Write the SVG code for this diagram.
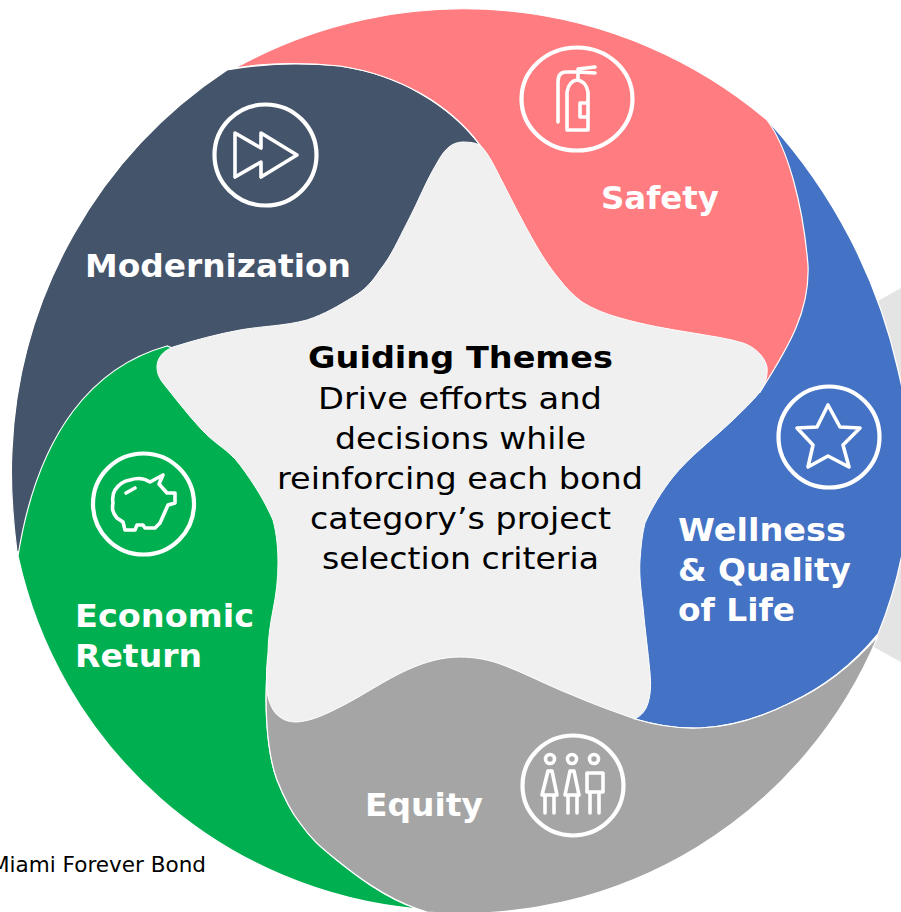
<svg xmlns="http://www.w3.org/2000/svg" width="901" height="912" viewBox="0 0 901 912">
<style>
.seg{stroke:#fff;stroke-width:1.2}
.ic{fill:none;stroke:#fff;stroke-width:3.6;stroke-linejoin:round;stroke-linecap:round}
.ring{fill:none;stroke:#fff;stroke-width:4.2}
.lb{font:bold 32px "DejaVu Sans",Verdana,sans-serif;fill:#fff}
.ct{font:31px "DejaVu Sans",Verdana,sans-serif;fill:#000}
.ch{font:bold 31px "DejaVu Sans",Verdana,sans-serif;fill:#000}
</style>
<rect width="901" height="912" fill="#fff"/>
<polygon id="backdrop" points="860,311 901,288 901,662 850,634" fill="#e4e4e4"/>
<g id="modernization">
<path class="seg" fill="#44546a" d="M17,552C13,520 10,485 12,450A480,480 0 0 1 227,70C265,63 300,62 340,66C400,75 450,105 480,145L460,460Z"/>
<text class="lb" x="85" y="277" textLength="266" lengthAdjust="spacingAndGlyphs">Modernization</text>
<ellipse class="ring" cx="265.500" cy="155" rx="51" ry="50.500"/>
<path class="ic" d="M235,133L261,148V133L297,155L261,177V162L235,177Z"/>
</g>
<g id="wellness">
<path class="seg" fill="#4472c4" d="M770,123A546,546 0 0 1 898,370A430,430 0 0 1 878,634C855,662 825,687 790,703C762,717 732,727 700,728C678,729 655,725 635,719L460,460L760,392Z"/>
<text class="lb" x="678" y="541" textLength="168" lengthAdjust="spacingAndGlyphs">Wellness</text>
<text class="lb" x="678" y="581" textLength="173" lengthAdjust="spacingAndGlyphs">&amp; Quality</text>
<text class="lb" x="678" y="621" textLength="117" lengthAdjust="spacingAndGlyphs">of Life</text>
<circle class="ring" cx="829" cy="437" r="50.500"/>
<path class="ic" d="M828,405L840,427L860,428L843,445L849,467L828,456L808,467L813,445L797,428L817,427Z"/>
</g>
<g id="safety">
<path class="seg" fill="#ff7c80" d="M235,68A470,470 0 0 1 767,120C788,148 803,205 808,265C810,310 790,345 760,392L460,460L480,145C450,105 400,75 340,66C300,62 265,63 235,68Z"/>
<text class="lb" x="601" y="209" textLength="118" lengthAdjust="spacingAndGlyphs">Safety</text>
<ellipse class="ring" cx="577" cy="99" rx="55.500" ry="51.500"/>
<path class="ic" d="M558,122V82Q558,72 566,72H578V80M578,69L595,67M578,72L595,73M567,130H588V92Q586,81 577,80Q569,81 567,92ZM588,103H580V117H588"/>
</g>
<g id="economic">
<path class="seg" fill="#00b050" d="M18,556A450,450 0 0 0 418,909C385,898 355,875 333,857C322,848 312,840 300,823C292,813 285,800 277,780C266,750 264,700 268,660L460,460L167,346C95,366 38,430 18,556Z"/>
<text class="lb" x="75" y="627" textLength="179" lengthAdjust="spacingAndGlyphs">Economic</text>
<text class="lb" x="75" y="667" textLength="127" lengthAdjust="spacingAndGlyphs">Return</text>
<circle class="ring" cx="143.500" cy="504" r="50.500"/>
<path class="ic" d="M150,482L163,475L159,484L167,493H175V503L168,505L160,523L155,528H145L143,525H137L135,530H125L123,522L117,518C112,512 112,508 113,503C112,496 113,493 115,490C119,484 124,481 130,480C136,478 144,478 150,482ZM126,493L135,488"/>
</g>
<g id="equity">
<path class="seg" fill="#a5a5a5" d="M418,909L427,912A450,450 0 0 0 878,636C855,662 825,687 790,703C762,717 732,727 700,728C678,729 655,725 635,719L460,600L268,660C264,700 266,750 277,780C285,800 292,813 300,823C312,840 322,848 333,857C355,875 385,898 418,909Z"/>
<text class="lb" x="365" y="816" textLength="118" lengthAdjust="spacingAndGlyphs">Equity</text>
<ellipse class="ring" cx="573" cy="785.500" rx="50.500" ry="50"/>
<g class="ic"><circle cx="550" cy="759" r="4.500"/><circle cx="572" cy="759" r="4.500"/><circle cx="594" cy="759" r="4.500"/>
<path d="M548,771H552L557,795H542ZM545,795V813M554,795V813M570,771H574L579,795H565ZM568,795V813M577,795V813M587,773H603V792H587ZM590,792V813M599,792V813"/></g>
</g>
<g id="center">
<path fill="#f0f0f0" stroke="#fff" stroke-width="1" d="M463,142C450,142 443,152 437,163C425,183 420,198 407,223C398,240 392,255 380,270C372,282 365,290 353,297C338,306 325,314 307,320C285,326 262,326 240,330C218,334 195,340 173,347C163,351 157,358 157,367C157,373 159,378 163,383C175,398 188,415 202,430C216,445 228,449 240,465C255,485 265,502 273,520C277,535 278,550 278,563C278,580 276,595 273,610C270,625 268,640 268,653C266,670 266,685 268,697C271,708 275,714 280,717C285,721 291,722 297,722C312,721 326,714 340,707C362,696 385,680 407,670C425,662 442,657 460,657C475,657 490,660 503,665C522,672 541,682 560,690C577,697 593,704 610,710L635,719C642,715 646,710 648,703C651,693 651,683 650,673C648,650 645,630 643,607C641,590 639,575 640,560C641,546 642,535 645,523C652,507 662,491 673,477C690,456 712,440 733,420C742,411 752,402 760,392C765,385 768,376 767,367C765,357 755,347 743,343C727,338 710,336 693,333C668,329 645,325 620,318C606,314 593,309 582,302C573,295 566,288 560,280C549,267 541,254 533,240C523,222 513,203 503,183C496,170 490,155 480,145C476,143 470,142 463,142Z"/>
<text class="ch" x="308" y="368" textLength="305" lengthAdjust="spacingAndGlyphs">Guiding Themes</text>
<text class="ct" x="318" y="409" textLength="284" lengthAdjust="spacingAndGlyphs">Drive efforts and</text>
<text class="ct" x="335" y="449" textLength="251" lengthAdjust="spacingAndGlyphs">decisions while</text>
<text class="ct" x="277" y="489" textLength="366" lengthAdjust="spacingAndGlyphs">reinforcing each bond</text>
<text class="ct" x="310" y="529" textLength="301" lengthAdjust="spacingAndGlyphs">category’s project</text>
<text class="ct" x="322" y="569" textLength="277" lengthAdjust="spacingAndGlyphs">selection criteria</text>
</g>
<text id="caption" x="-9" y="872" font-family="DejaVu Sans,Verdana,sans-serif" font-size="21" fill="#000" textLength="215" lengthAdjust="spacingAndGlyphs">Miami Forever Bond</text>
<g id="connectors"/>
</svg>
